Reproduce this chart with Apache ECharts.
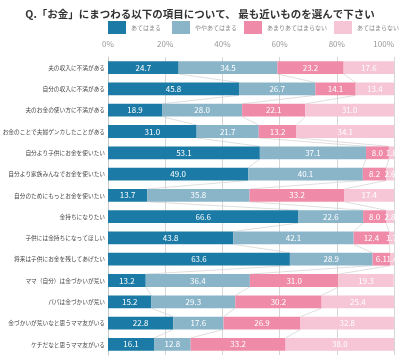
<!DOCTYPE html>
<html><head><meta charset="utf-8">
<script src="https://cdn.jsdelivr.net/npm/echarts@6/dist/echarts.min.js"></script>
<style>html,body{margin:0;padding:0;background:#fff}#c{width:400px;height:360px}</style>
</head><body><div id="c"></div>
<script>
const categories = [
  '夫の収入に不満がある',
  '自分の収入に不満がある',
  '夫のお金の使い方に不満がある',
  'お金のことで夫婦ゲンカしたことがある',
  '自分より子供にお金を使いたい',
  '自分より家族みんなでお金を使いたい',
  '自分のためにもっとお金を使いたい',
  '金持ちになりたい',
  '子供には金持ちになってほしい',
  '将来は子供にお金を残してあげたい',
  'ママ（自分）は金づかいが荒い',
  'パパは金づかいが荒い',
  '金づかいが荒いなと思うママ友がいる',
  'ケチだなと思うママ友がいる'
];
const seriesNames = ['あてはまる', 'ややあてはまる', 'あまりあてはまらない', 'あてはまらない'];
const atehamaru      = [24.7, 45.8, 18.9, 31.0, 53.1, 49.0, 13.7, 66.6, 43.8, 63.6, 13.2, 15.2, 22.8, 16.1];
const yayaAtehamaru  = [34.5, 26.7, 28.0, 21.7, 37.1, 40.1, 35.8, 22.6, 42.1, 28.9, 36.4, 29.3, 17.6, 12.8];
const amariAtehamaranai = [23.2, 14.1, 22.1, 13.2, 8.0, 8.2, 33.2, 8.0, 12.4, 6.1, 31.0, 30.2, 26.9, 33.2];
const atehamaranai   = [17.6, 13.4, 31.0, 34.1, 1.8, 2.6, 17.4, 2.8, 1.7, 1.4, 19.3, 25.4, 32.8, 38.0];
const xTicks = [0, 20, 40, 60, 80, 100];

const values = [atehamaru, yayaAtehamaru, amariAtehamaranai, atehamaranai];
const colors = ['#1B7BA6', '#8AB5C9', '#EF8BA8', '#F6C6D6'];
const FONT = '"Noto Sans CJK JP", sans-serif';
const BAR_RATIO = 0.6;
const legendLefts = [108, 172, 244, 334];

const chart = echarts.init(document.getElementById('c'), null, {renderer: 'canvas'});

const barSeries = values.map((arr, k) => ({
  name: seriesNames[k],
  type: 'bar',
  stack: 'total',
  barWidth: (BAR_RATIO * 100) + '%',
  itemStyle: {color: colors[k]},
  z: 3,
  label: {
    show: true, position: 'inside', color: '#fff', fontSize: 8, fontFamily: FONT,
    formatter: p => Number(p.value).toFixed(1)
  },
  data: arr
}));

const connector = {
  type: 'custom',
  z: 1,
  silent: true,
  encode: {x: 0, y: 1},
  data: categories.slice(0, -1).map((c, i) => [0, i]),
  renderItem: function (params, api) {
    const i = api.value(1);
    const bandH = api.size([0, 1])[1];
    const half = bandH * BAR_RATIO / 2;
    const children = [];
    let cumA = 0, cumB = 0;
    for (let k = 0; k < 3; k++) {
      cumA += values[k][i];
      cumB += values[k][i + 1];
      const pA = api.coord([cumA, i]);
      const pB = api.coord([cumB, i + 1]);
      children.push({
        type: 'line',
        shape: {x1: pA[0], y1: pA[1] + half, x2: pB[0], y2: pB[1] - half},
        style: {stroke: '#d0d0d0', lineWidth: 0.7}
      });
    }
    return {type: 'group', children: children};
  }
};

const legends = seriesNames.map((n, k) => ({
  data: [n],
  left: legendLefts[k], top: 21,
  padding: 0,
  itemWidth: 18, itemHeight: 13,
  icon: 'rect',
  textStyle: {fontSize: 6, color: '#888', fontFamily: FONT}
}));

chart.setOption({
  animation: false,
  textStyle: {fontFamily: FONT},
  title: {
    text: 'Q.「お金」にまつわる以下の項目について、 最も近いものを選んで下さい',
    left: 'center', top: 4,
    textStyle: {fontSize: 10.5, fontWeight: 'bold', color: '#333', fontFamily: FONT}
  },
  legend: legends,
  grid: {left: 108, right: 6, top: 57, bottom: 5, containLabel: false, outerBoundsMode: 'none'},
  xAxis: {
    type: 'value', min: xTicks[0], max: xTicks[xTicks.length - 1], interval: 20,
    position: 'top',
    axisLine: {show: false}, axisTick: {show: false},
    splitLine: {lineStyle: {color: '#d6d6d6', width: 1}},
    axisLabel: {formatter: '{value}%', color: '#999', fontSize: 8, margin: 9, alignMaxLabel: 'right', fontFamily: FONT}
  },
  yAxis: {
    type: 'category', data: categories, inverse: true,
    axisLine: {show: true, lineStyle: {color: '#c8c8c8'}},
    axisTick: {show: false},
    axisLabel: {color: '#444', fontSize: 5.7, margin: 3, fontFamily: FONT}
  },
  series: [connector].concat(barSeries)
});
</script></body></html>
